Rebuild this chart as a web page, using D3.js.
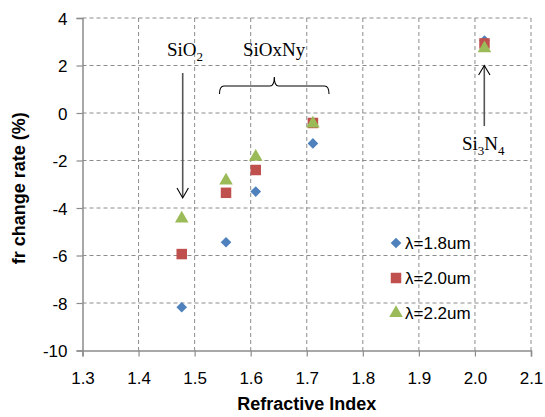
<!DOCTYPE html>
<html>
<head>
<meta charset="utf-8">
<script src="https://cdn.jsdelivr.net/npm/d3@7"></script>
<style>
  body { margin: 0; background: #fff; }
  text { font-family: "Liberation Sans", Arial, sans-serif; }
</style>
</head>
<body>
<div id="chart"></div>
<script>
// Data
const refIndex = [1.477, 1.556, 1.609, 1.711, 2.017];
const rate18 = [-8.18, -5.44, -3.31, -1.28, 3.05];
const rate20 = [-5.94, -3.36, -2.40, -0.42, 2.93];
const rate22 = [-4.45, -2.85, -1.85, -0.45, 2.72];
const seriesNames = ["λ=1.8um", "λ=2.0um", "λ=2.2um"];
const colors = ["#4F81BD", "#C0504D", "#9BBB59"];
const xTicks = [1.3, 1.4, 1.5, 1.6, 1.7, 1.8, 1.9, 2.0, 2.1];
const yTicks = [-10, -8, -6, -4, -2, 0, 2, 4];

const width = 545, height = 417;
const margin = { left: 82.5, right: 14, top: 18, bottom: 66.5 };

const svg = d3.select("#chart").append("svg")
    .attr("width", width)
    .attr("height", height);

const x = d3.scaleLinear().domain([1.3, 2.1]).range([margin.left, width - margin.right]);
const y = d3.scaleLinear().domain([-10, 4]).range([height - margin.bottom, margin.top]);

// gridlines (dashed)
svg.append("g")
    .selectAll("line")
    .data(xTicks.slice(1))
    .join("line")
    .attr("x1", d => x(d)).attr("x2", d => x(d))
    .attr("y1", y(4)).attr("y2", y(-10))
    .attr("stroke", "#8c8c8c")
    .attr("stroke-dasharray", "4,3");

svg.append("g")
    .selectAll("line")
    .data(yTicks.slice(1))
    .join("line")
    .attr("x1", x(1.3)).attr("x2", x(2.1))
    .attr("y1", d => y(d)).attr("y2", d => y(d))
    .attr("stroke", "#8c8c8c")
    .attr("stroke-dasharray", "4,3");

// axes
const xAxis = svg.append("g")
    .attr("transform", `translate(0,${y(-10)})`)
    .call(d3.axisBottom(x).tickValues(xTicks).tickFormat(d3.format(".1f")).tickSize(6).tickPadding(15));
const yAxis = svg.append("g")
    .attr("transform", `translate(${x(1.3)},0)`)
    .call(d3.axisLeft(y).tickValues(yTicks).tickFormat(d => d).tickSize(6).tickPadding(9));

[xAxis, yAxis].forEach(a => {
    a.select(".domain").attr("stroke", "#8c8c8c").attr("stroke-width", 1.5);
    a.selectAll(".tick line").attr("stroke", "#8c8c8c").attr("stroke-width", 1.2);
    a.selectAll(".tick text")
        .style("font-size", "17px")
        .style("font-family", "'Liberation Sans', Arial, sans-serif")
        .attr("fill", "#000");
});
yAxis.selectAll(".tick text").attr("dy", "0.36em");

// axis titles
svg.append("text")
    .attr("x", (x(1.3) + x(2.1)) / 2)
    .attr("y", 410)
    .attr("text-anchor", "middle")
    .style("font-size", "18px")
    .style("font-weight", "bold")
    .text("Refractive Index");

svg.append("text")
    .attr("transform", `translate(25,${(y(4) + y(-10)) / 2 + 4}) rotate(-90)`)
    .attr("text-anchor", "middle")
    .style("font-size", "18px")
    .style("font-weight", "bold")
    .text("fr change rate (%)");

// markers
const sym = [d3.symbolDiamond2, d3.symbolSquare, d3.symbolTriangle];
const sizes = [72, 110, 80];
const allSeries = [rate18, rate20, rate22];

allSeries.forEach((vals, i) => {
    svg.append("g")
        .selectAll("path")
        .data(vals)
        .join("path")
        .attr("transform", (d, j) => `translate(${x(refIndex[j])},${y(d)})`)
        .attr("d", d3.symbol().type(sym[i]).size(sizes[i]))
        .attr("fill", colors[i]);
});

// legend
const legend = svg.append("g");
seriesNames.forEach((name, i) => {
    const ly = 243 + i * 35;
    legend.append("path")
        .attr("transform", `translate(396,${ly})`)
        .attr("d", d3.symbol().type(sym[i]).size(sizes[i]))
        .attr("fill", colors[i]);
    legend.append("text")
        .attr("x", 405)
        .attr("y", ly + 6)
        .style("font-size", "17px")
        .text(name);
});

// annotations (serif like the original)
const serif = "'Liberation Serif', 'Times New Roman', serif";

function formula(tx, ty, parts) {
    const t = svg.append("text")
        .attr("x", tx).attr("y", ty)
        .style("font-family", serif)
        .style("font-size", "19px");
    parts.forEach(p => {
        t.append("tspan")
            .attr("dy", p.sub ? 5 : (p.after ? -5 : 0))
            .style("font-size", p.sub ? "13px" : "19px")
            .text(p.t);
    });
}

formula(167, 56, [{ t: "SiO" }, { t: "2", sub: true }]);
svg.append("text")
    .attr("x", 243).attr("y", 56)
    .style("font-family", serif)
    .style("font-size", "19px")
    .text("SiOxNy");
formula(462, 150, [{ t: "Si" }, { t: "3", sub: true }, { t: "N", after: true }, { t: "4", sub: true }]);

const ann = svg.append("g")
    .attr("fill", "none")
    .attr("stroke", "#000")
    .attr("stroke-width", 1.1);

// SiO2 arrow pointing down
ann.append("line").attr("x1", 182.7).attr("x2", 182.7).attr("y1", 73).attr("y2", 197).attr("stroke", "#555").attr("stroke-width", 1.6);
ann.append("path").attr("d", "M177,188 L182.7,198 L188.4,188");

// Si3N4 arrow pointing up
ann.append("line").attr("x1", 484.3).attr("x2", 484.3).attr("y1", 126).attr("y2", 66).attr("stroke", "#555").attr("stroke-width", 1.6);
ann.append("path").attr("d", "M478.6,75 L484.3,65.5 L490,75");

// brace over SiOxNy points
ann.append("path")
    .attr("d", "M219.5,94 Q219.5,86 224,86 L270,86 Q274.3,86 274.3,77 Q274.3,86 278.6,86 L324.5,86 Q329,86 329,94");
</script>
</body>
</html>
